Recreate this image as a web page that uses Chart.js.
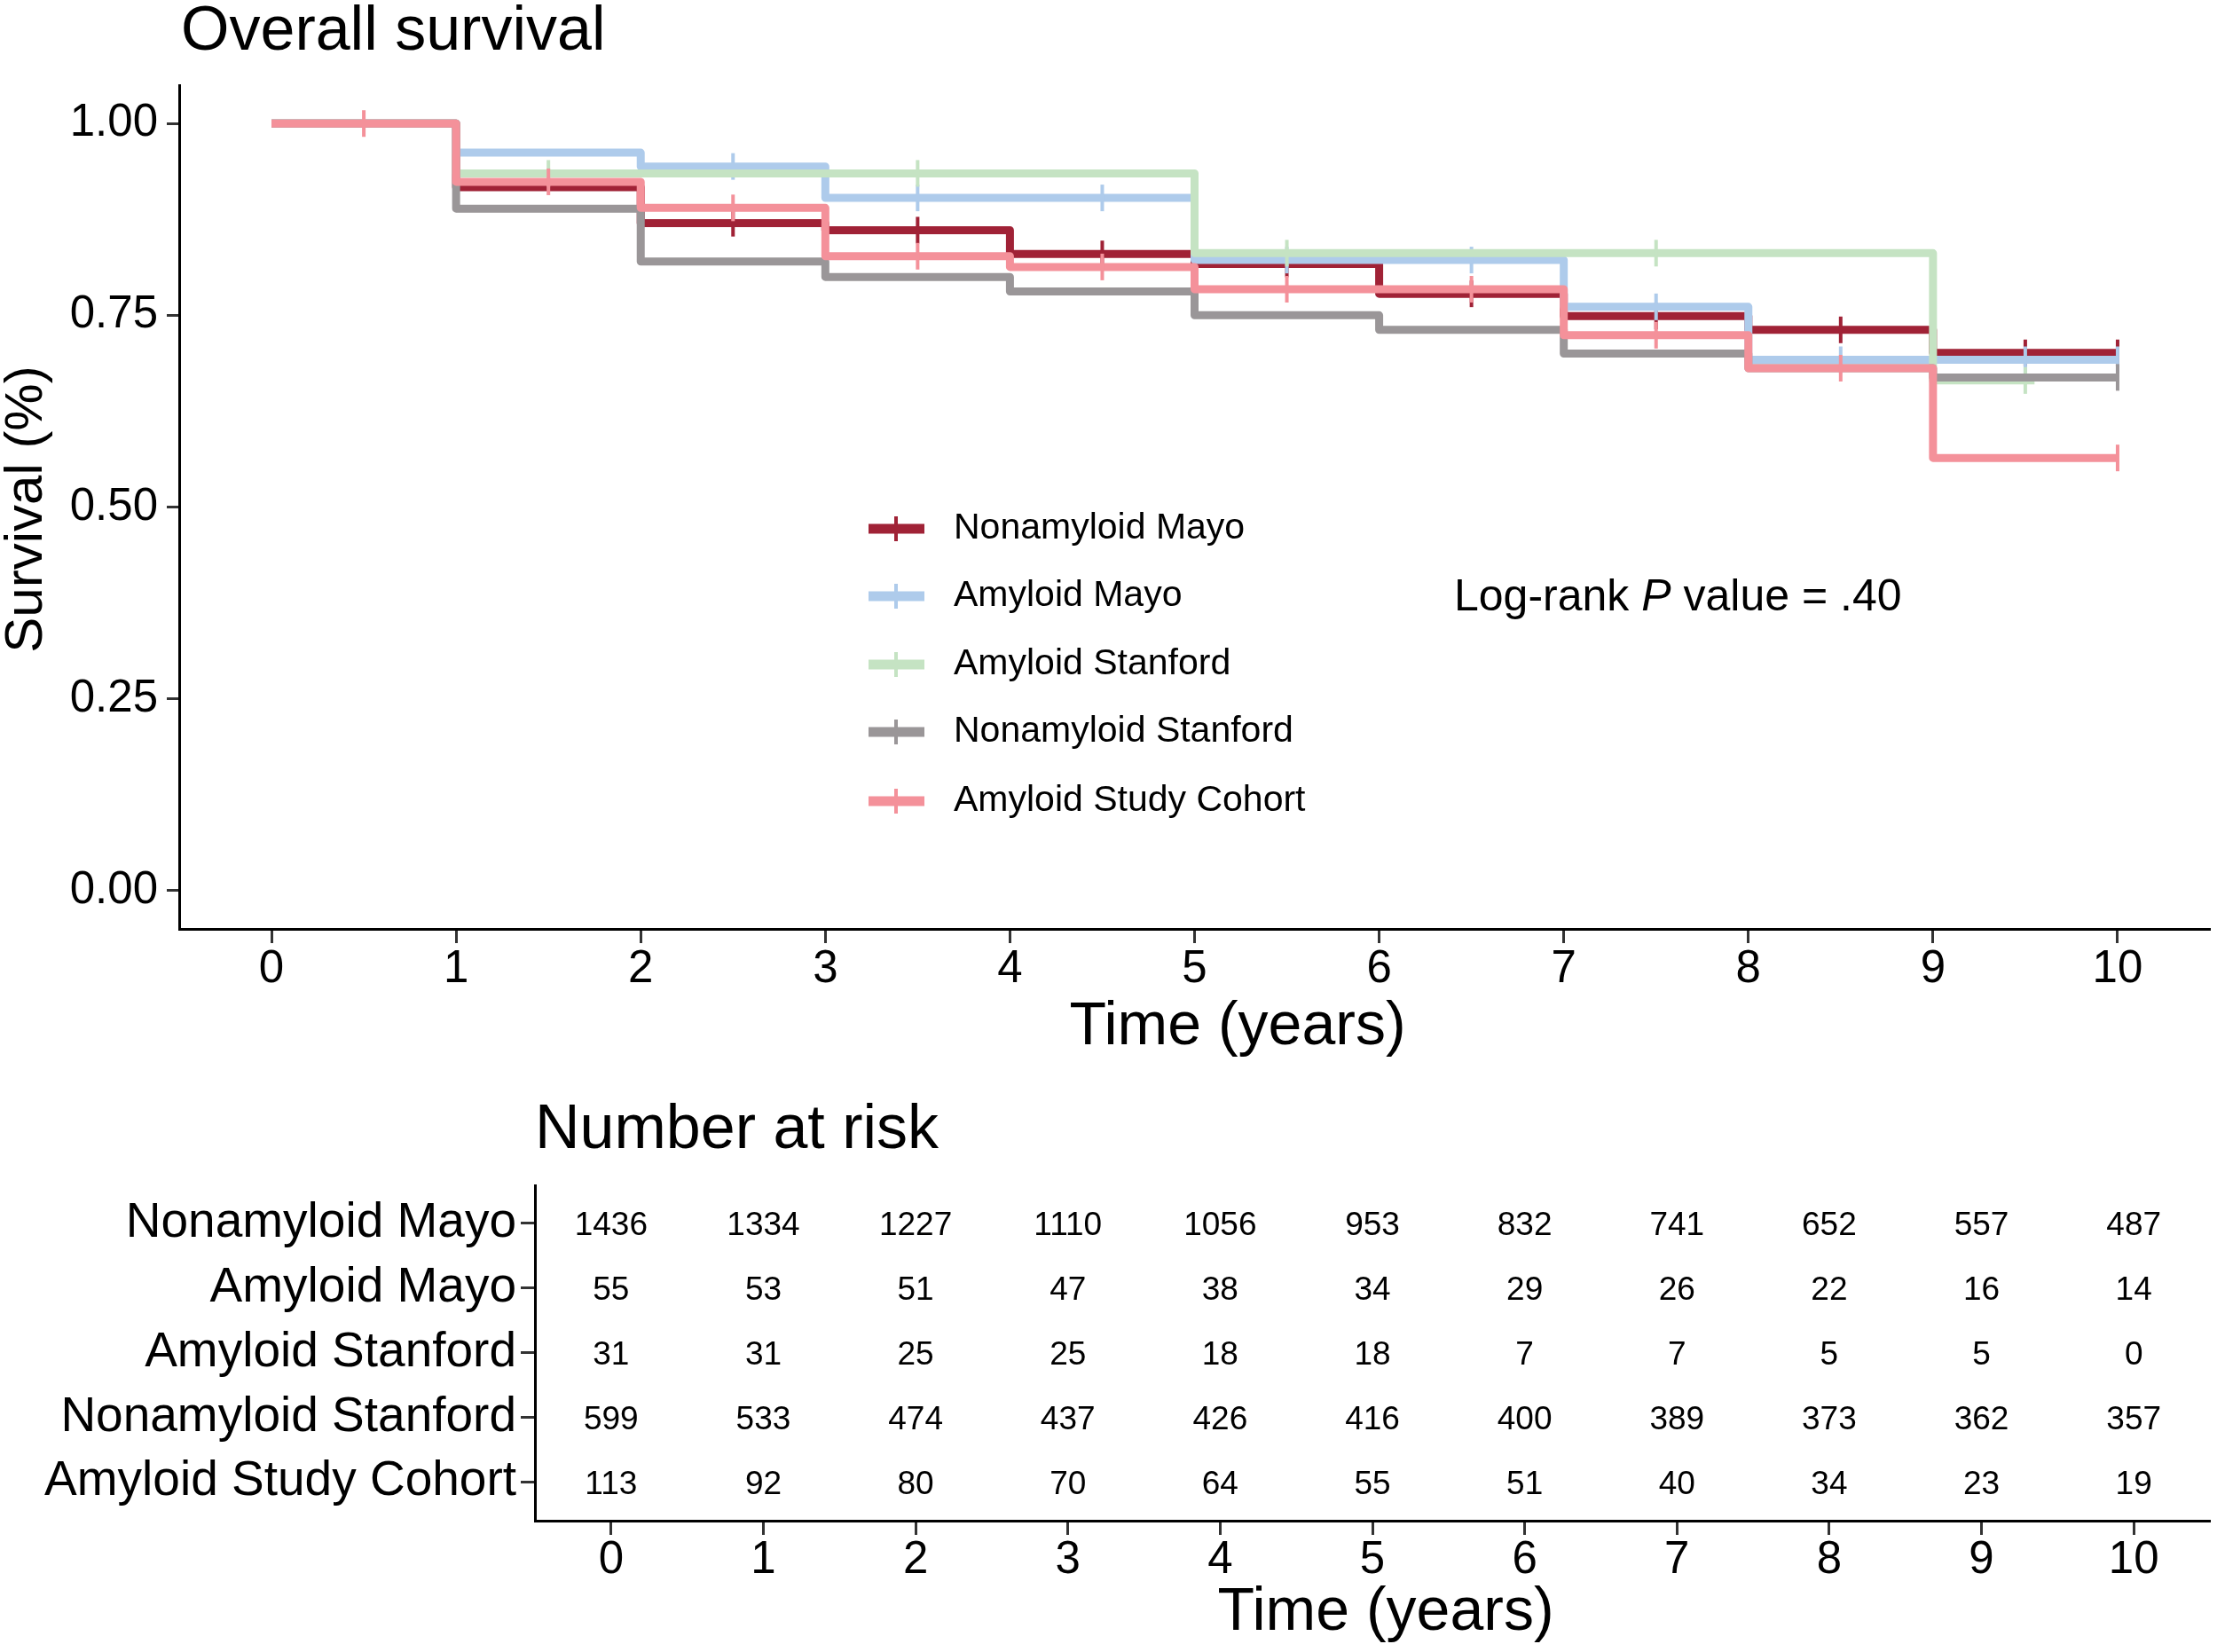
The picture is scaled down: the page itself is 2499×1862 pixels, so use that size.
<!DOCTYPE html>
<html><head><meta charset="utf-8">
<script src="https://cdn.jsdelivr.net/npm/chart.js@4.4.1/dist/chart.umd.min.js"></script>
<style>
html,body{margin:0;padding:0;background:#fff;}
#wrap1{position:absolute;left:0;top:0;width:2499px;height:1230px;}
#wrap2{position:absolute;left:0;top:1230px;width:2499px;height:632px;}
canvas{display:block;}
</style></head><body>
<div id="wrap1"><canvas id="c1" width="2499" height="1230"></canvas></div>
<div id="wrap2"><canvas id="c2" width="2499" height="632"></canvas></div>
<script>
const FONT = "'Liberation Sans', Arial, Helvetica, sans-serif";
Chart.defaults.font.family = FONT;
Chart.defaults.color = '#000';

// ---------- data ----------
const seriesNames = ['Nonamyloid Mayo','Amyloid Mayo','Amyloid Stanford','Nonamyloid Stanford','Amyloid Study Cohort'];
const seriesColors = ['#A02236','#AECBEB','#C5E3C3','#9A9698','#F4919A'];
const years = [0,1,2,3,4,5,6,7,8,9,10];
// survival level holding on [year, year+1)
const survNonamyloidMayo     = [1.00,0.917,0.870,0.861,0.830,0.817,0.778,0.749,0.731,0.701];
const survAmyloidMayo        = [1.00,0.962,0.944,0.903,0.903,0.822,0.822,0.761,0.692,0.692];
const survAmyloidStanford    = [1.00,0.935,0.935,0.935,0.935,0.831,0.831,0.831,0.831,0.665];
const survNonamyloidStanford = [1.00,0.889,0.820,0.800,0.781,0.750,0.731,0.700,0.681,0.669];
const survAmyloidCohort      = [1.00,0.924,0.890,0.827,0.813,0.784,0.784,0.724,0.681,0.564];
const survValues = [survNonamyloidMayo,survAmyloidMayo,survAmyloidStanford,survNonamyloidStanford,survAmyloidCohort];
const endTimes = [10,10,9.55,10,10];
// censor marks
const censorNonamyloidMayo     = [2.5,3.5,4.5,5.5,6.5,7.5,8.5,9.5,10];
const censorAmyloidMayo        = [2.5,3.5,4.5,5.5,6.5,7.5,8.5,9.5,10];
const censorAmyloidStanford    = [1.5,3.5,5.5,7.5,9.5];
const censorNonamyloidStanford = [10];
const censorAmyloidCohort      = [0.5,1.5,2.5,3.5,4.5,5.5,6.5,7.5,8.5,10];
const censorTimes = [censorNonamyloidMayo,censorAmyloidMayo,censorAmyloidStanford,censorNonamyloidStanford,censorAmyloidCohort];
const drawOrder = [4,3,2,1,0]; // lower = on top
// number at risk
const riskNonamyloidMayo     = [1436,1334,1227,1110,1056,953,832,741,652,557,487];
const riskAmyloidMayo        = [55,53,51,47,38,34,29,26,22,16,14];
const riskAmyloidStanford    = [31,31,25,25,18,18,7,7,5,5,0];
const riskNonamyloidStanford = [599,533,474,437,426,416,400,389,373,362,357];
const riskAmyloidCohort      = [113,92,80,70,64,55,51,40,34,23,19];
const riskValues = [riskNonamyloidMayo,riskAmyloidMayo,riskAmyloidStanford,riskNonamyloidStanford,riskAmyloidCohort];
const yTicks = [0,0.25,0.5,0.75,1];

// ---------- build datasets ----------
function survAt(i,t){
  const v = survValues[i]; let idx = Math.min(Math.floor(t), v.length-1);
  return v[idx];
}
const survDatasets = seriesNames.map((name,i)=>{
  const pts = [];
  survValues[i].forEach((v,k)=>pts.push({x:years[k], y:v, c:false}));
  pts.push({x:endTimes[i], y:survValues[i][survValues[i].length-1], c:false});
  censorTimes[i].forEach(t=>pts.push({x:t, y:survAt(i,t), c:true}));
  pts.sort((a,b)=>a.x-b.x || (a.c?1:-1));
  return {
    label:name, data:pts, order:drawOrder[i],
    borderColor:seriesColors[i], backgroundColor:seriesColors[i],
    borderWidth:9, stepped:'before', fill:false, tension:0,
    borderCapStyle:'butt', borderJoinStyle:'round',
    pointStyle:'line', pointRotation:90,
    pointRadius:ctx=>(ctx.raw && ctx.raw.c)?15:0,
    pointHoverRadius:ctx=>(ctx.raw && ctx.raw.c)?15:0,
    pointBorderWidth:4, pointBorderColor:seriesColors[i]
  };
});

const overlay1 = {
  id:'overlay1',
  afterDraw(chart){
    const ctx = chart.ctx;
    ctx.save();
    ctx.fillStyle = '#000';
    ctx.font = `70px ${FONT}`; ctx.textAlign='left'; ctx.textBaseline='alphabetic';
    ctx.fillText('Overall survival', 204, 56);
    ctx.font = `68px ${FONT}`; ctx.textAlign='center'; ctx.textBaseline='middle';
    ctx.fillText('Time (years)', 1395, 1158);
    ctx.save(); ctx.translate(30, 574); ctx.rotate(-Math.PI/2);
    ctx.font = `60px ${FONT}`; ctx.fillText('Survival (%)', 0, 0); ctx.restore();
    const ly = [596,672,749,825,903];
    seriesNames.forEach((n,i)=>{
      ctx.strokeStyle = seriesColors[i];
      ctx.lineWidth = 11; ctx.lineCap='butt';
      ctx.beginPath(); ctx.moveTo(979, ly[i]); ctx.lineTo(1042, ly[i]); ctx.stroke();
      ctx.lineWidth = 4;
      ctx.beginPath(); ctx.moveTo(1010, ly[i]-14); ctx.lineTo(1010, ly[i]+14); ctx.stroke();
      ctx.font = `41px ${FONT}`; ctx.textAlign='left'; ctx.textBaseline='middle';
      ctx.fillStyle = '#000';
      ctx.fillText(n, 1075, ly[i]);
    });
    ctx.textAlign='left'; ctx.textBaseline='middle';
    let x = 1639; const y = 674;
    ctx.font = `50px ${FONT}`;
    ctx.fillText('Log-rank ', x, y); x += ctx.measureText('Log-rank ').width;
    ctx.font = `italic 50px ${FONT}`;
    ctx.fillText('P', x, y); x += ctx.measureText('P').width;
    ctx.font = `50px ${FONT}`;
    ctx.fillText(' value = .40', x, y);
    ctx.restore();
  }
};

new Chart(document.getElementById('c1'), {
  type:'line',
  data:{datasets:survDatasets},
  options:{
    responsive:false, animation:false, devicePixelRatio:1, events:[],
    layout:{autoPadding:false, padding:{top:96,right:8,left:0,bottom:0}},
    plugins:{legend:{display:false}, tooltip:{enabled:false}},
    scales:{
      x:{type:'linear', min:-0.5, max:10.5,
        afterBuildTicks:s=>{s.ticks = years.map(v=>({value:v}));},
        afterFit:s=>{s.height = 183; s.paddingRight = 0; s.paddingLeft = 0;},
        ticks:{font:{size:51, lineHeight:1}, color:'#000', padding:4, maxRotation:0, autoSkip:false},
        grid:{drawOnChartArea:false, drawTicks:true, tickLength:16, tickWidth:3, tickColor:'#333'},
        border:{display:true, color:'#000', width:3}
      },
      y:{type:'linear', min:-0.05, max:1.05,
        afterBuildTicks:s=>{s.ticks = yTicks.map(v=>({value:v}));},
        afterFit:s=>{s.width = 202;},
        ticks:{font:{size:51, lineHeight:1}, color:'#000', padding:10, callback:v=>Number(v).toFixed(2)},
        grid:{drawOnChartArea:false, drawTicks:true, tickLength:14, tickWidth:3, tickColor:'#333'},
        border:{display:true, color:'#000', width:3}
      }
    }
  },
  plugins:[overlay1]
});

// ---------- risk table ----------
const riskDatasets = seriesNames.map((n,i)=>({
  label:n,
  data:riskValues[i].map((v,k)=>({x:years[k], y:i, n:v})),
  pointRadius:0, showLine:false
}));
const overlay2 = {
  id:'overlay2',
  afterDraw(chart){
    const ctx = chart.ctx;
    ctx.save(); ctx.fillStyle='#000';
    ctx.font = `70px ${FONT}`; ctx.textAlign='left'; ctx.textBaseline='alphabetic';
    ctx.fillText('Number at risk', 603, 64);
    ctx.font = `68px ${FONT}`; ctx.textAlign='center'; ctx.textBaseline='middle';
    ctx.fillText('Time (years)', 1562, 588);
    ctx.font = `37px ${FONT}`;
    chart.data.datasets.forEach((ds,i)=>{
      const meta = chart.getDatasetMeta(i);
      meta.data.forEach((el,k)=>{
        ctx.fillText(String(ds.data[k].n), el.x, el.y + 3);
      });
    });
    ctx.restore();
  }
};
new Chart(document.getElementById('c2'), {
  type:'scatter',
  data:{datasets:riskDatasets},
  options:{
    responsive:false, animation:false, devicePixelRatio:1, events:[],
    layout:{autoPadding:false, padding:{top:106,right:8,left:0,bottom:0}},
    plugins:{legend:{display:false}, tooltip:{enabled:false}},
    scales:{
      x:{type:'linear', min:-0.5, max:10.5,
        afterBuildTicks:s=>{s.ticks = years.map(v=>({value:v}));},
        afterFit:s=>{s.height = 148; s.paddingRight = 0; s.paddingLeft = 0;},
        ticks:{font:{size:51, lineHeight:1}, color:'#000', padding:3, maxRotation:0, autoSkip:false},
        grid:{drawOnChartArea:false, drawTicks:true, tickLength:16, tickWidth:3, tickColor:'#333'},
        border:{display:true, color:'#000', width:3}
      },
      y:{type:'linear', reverse:true, min:-0.59, max:4.6,
        afterBuildTicks:s=>{s.ticks = [0,1,2,3,4].map(v=>({value:v}));},
        afterFit:s=>{s.width = 603;},
        ticks:{font:{size:55, lineHeight:1}, color:'#000', padding:5, callback:v=>seriesNames[v]},
        grid:{drawOnChartArea:false, drawTicks:true, tickLength:16, tickWidth:3, tickColor:'#333'},
        border:{display:true, color:'#000', width:3}
      }
    }
  },
  plugins:[overlay2]
});
</script>
</body></html>
